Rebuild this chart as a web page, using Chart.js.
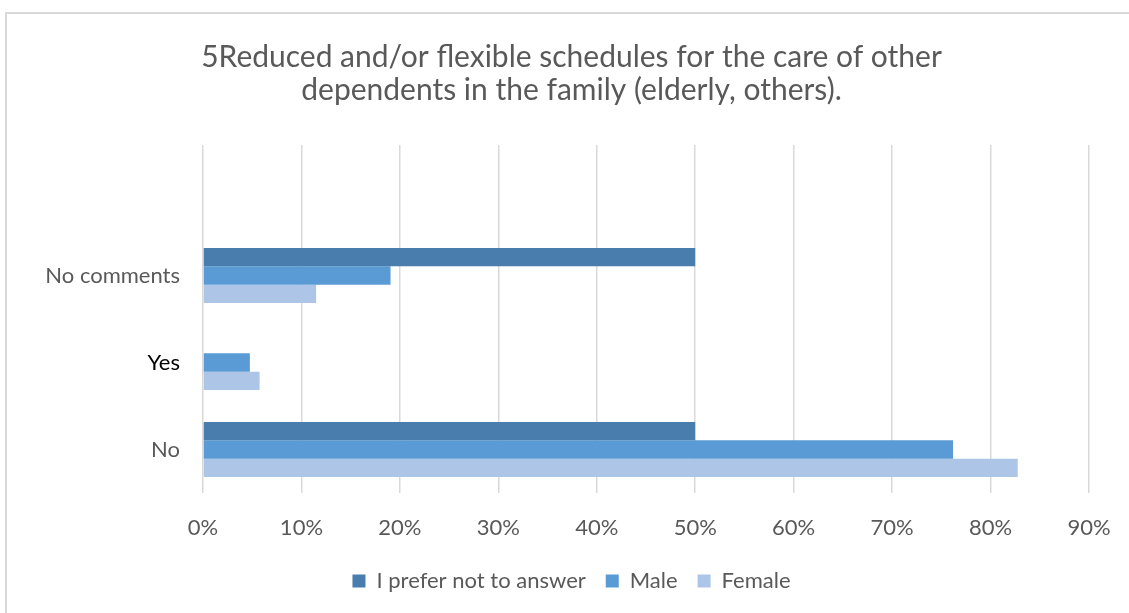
<!DOCTYPE html>
<html>
<head>
<meta charset="utf-8">
<script src="https://cdn.jsdelivr.net/npm/chart.js@4/dist/chart.umd.min.js"></script>
<style>
  html, body { margin: 0; padding: 0; background: #fff; }
  #wrap { position: relative; width: 1129px; height: 613px; overflow: hidden; }
  #frame { position: absolute; left: 5px; top: 12px; width: 1200px; height: 700px;
           border-left: 2px solid #d9d9d9; border-top: 2px solid #d9d9d9; }
  #graph1 { position: absolute; left: 0; top: 0; }
</style>
</head>
<body>
<div id="wrap">
  <div id="frame"></div>
  <canvas id="graph1" width="1129" height="613"></canvas>
</div>
<script>
// categories top to bottom (first slot is empty, like the original)
const categories = ['', 'No comments', 'Yes', 'No'];
const preferNot  = [null, 50, 0, 50];
const male       = [null, 19.05, 4.76, 76.19];
const female     = [null, 11.49, 5.75, 82.76];
const xTicks     = [0, 10, 20, 30, 40, 50, 60, 70, 80, 90];
const seriesNames = ['I prefer not to answer', 'Male', 'Female'];

const grey = '#595959';
const fontName = 'Lato, "Liberation Sans", sans-serif';

// let the category labels use the space left of the layout padding
const labelRoom = {
  id: 'labelRoom',
  afterLayout: (chart) => { chart.scales.y.left = 0; }
};

const initGraphix = () => {
  const graphique = document.getElementById('graph1');
  const graph = new Chart(graphique, {
    type: 'bar',
    data: {
      labels: categories,
      datasets: [
        { label: seriesNames[0], data: preferNot, backgroundColor: '#497dad' },
        { label: seriesNames[1], data: male,      backgroundColor: '#5b9bd5' },
        { label: seriesNames[2], data: female,    backgroundColor: '#adc5e7' }
      ]
    },
    plugins: [labelRoom],
    options: {
      indexAxis: 'y',
      responsive: false,
      animation: false,
      categoryPercentage: 0.63,
      barPercentage: 1,
      layout: { padding: { left: 54, right: 40, top: 0, bottom: 11 } },
      plugins: {
        title: {
          display: true,
          text: ['5Reduced and/or flexible schedules for the care of other',
                 'dependents in the family (elderly, others).'],
          color: grey,
          font: { family: fontName, size: 30, weight: 'normal', lineHeight: 1.1 },
          padding: { top: 41, bottom: 38 }
        },
        legend: {
          position: 'bottom',
          labels: {
            color: grey,
            boxWidth: 13,
            boxHeight: 13,
            padding: 20,
            font: { family: fontName, size: 22 }
          }
        },
        tooltip: { enabled: false }
      },
      scales: {
        x: {
          min: 0,
          max: 90,
          afterBuildTicks: (scale) => { scale.ticks = xTicks.map(v => ({ value: v })); },
          afterFit: (scale) => {
            scale.height = 57;
            scale.paddingLeft = 0;
            scale.paddingRight = 0;
          },
          grid: { color: '#d9d9d9', lineWidth: 1.5, drawTicks: false },
          border: { display: false },
          ticks: {
            color: grey,
            padding: 22,
            font: { family: fontName, size: 22 },
            callback: (v) => v + '%'
          }
        },
        y: {
          afterFit: (scale) => { scale.width = 149; },
          grid: { display: false },
          border: { display: false },
          ticks: {
            padding: 15,
            font: { family: fontName, size: 22 },
            color: (ctx) => (ctx.tick && ctx.tick.label === 'Yes') ? '#000' : grey
          }
        }
      }
    }
  });
};
initGraphix();
</script>
</body>
</html>
